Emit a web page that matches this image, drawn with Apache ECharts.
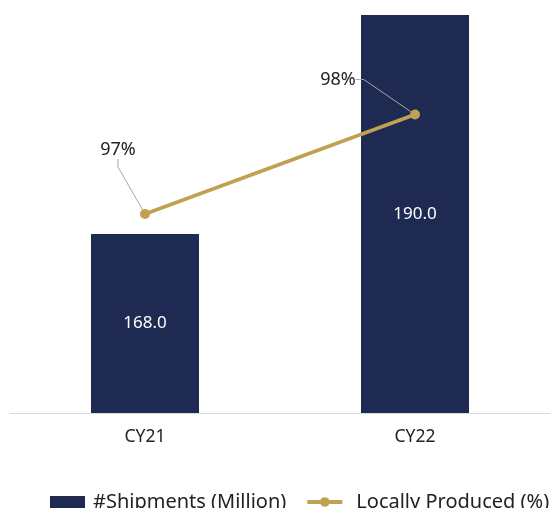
<!DOCTYPE html>
<html>
<head>
<meta charset="utf-8">
<script src="https://cdn.jsdelivr.net/npm/echarts@6/dist/echarts.min.js"></script>
<style>
  html, body { margin: 0; padding: 0; background: #fff; }
  #chart { width: 553px; height: 508px; }
</style>
</head>
<body>
<div id="chart"></div>
<script>
// Shipments and share of local production per calendar year
const categories = ['CY21', 'CY22'];
const shipments = [168.0, 190.0];
const localShare = [97, 98];

// where each percentage label sits relative to its point
const labelShift = [
  { dx: -27, dy: -45 },
  { dx: -77, dy: -16 }
];

const chart = echarts.init(document.getElementById('chart'));
chart.setOption({
  animation: false,
  textStyle: { fontFamily: 'Noto Sans' },
  grid: { left: 10, right: 3, top: 15, bottom: 95 },
  legend: {
    left: 45,
    top: 487,
    width: 700,
    itemGap: 19,
    itemWidth: 35,
    itemHeight: 12,
    textStyle: { fontSize: 20, color: '#222', fontFamily: 'Noto Sans', padding: [0, 0, 0, 3] },
    data: [
      { name: '#Shipments (Million)', icon: 'rect' },
      {
        name: 'Locally Produced (%)',
        lineStyle: { width: 4 },
        textStyle: { padding: [0, 0, 0, 9] }
      }
    ]
  },
  xAxis: {
    type: 'category',
    data: categories,
    axisLine: { lineStyle: { color: '#d9d9d9', width: 1 } },
    axisTick: { show: false },
    axisLabel: { fontSize: 17.5, color: '#222', margin: 15 }
  },
  yAxis: [
    { type: 'value', min: 150, max: 190, show: false, splitLine: { show: false } },
    { type: 'value', min: 95, max: 99, show: false, splitLine: { show: false } }
  ],
  series: [
    {
      name: '#Shipments (Million)',
      type: 'bar',
      data: shipments,
      barWidth: '40%',
      itemStyle: { color: '#1F2A52' },
      label: {
        show: true,
        position: 'inside',
        color: '#fff',
        fontSize: 17,
        formatter: p => p.value.toFixed(1)
      }
    },
    {
      name: 'Locally Produced (%)',
      type: 'line',
      yAxisIndex: 1,
      data: localShare,
      symbol: 'circle',
      symbolSize: 10,
      lineStyle: { color: '#C1A052', width: 3.5 },
      itemStyle: { color: '#C1A052' },
      label: {
        show: true,
        position: 'top',
        fontSize: 18,
        color: '#222',
        padding: [0, 4, 0, 4],
        formatter: p => p.value + '%'
      },
      labelLine: {
        show: true,
        length2: 8,
        lineStyle: { color: '#a6a6a6', width: 1 }
      },
      labelLayout: p => labelShift[p.dataIndex]
    }
  ]
});
</script>
</body>
</html>
